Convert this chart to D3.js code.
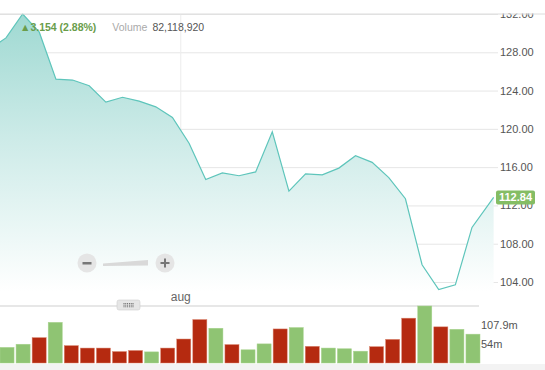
<!DOCTYPE html>
<html>
<head>
    <title>Price chart</title>
    <script src="https://cdnjs.cloudflare.com/ajax/libs/d3/7.8.5/d3.min.js" type="text/JavaScript"></script>
    <style>
        body{
            margin: 0;
            background: #fff;
        }
        svg{
            display: block;
            font-family: "Liberation Sans", Arial, sans-serif;
        }
    </style>
</head>
<body>
    <div id="viz">
        <svg style="height:370px; width:545px"></svg>
    </div>

    <script>
        // trading day index of each close (first one is off-screen, last one is the live price)
        var dayIndex = [-1, 0, 1, 2, 3, 4, 5, 6, 7, 8, 9, 10, 11, 12, 13, 14, 15, 16, 17, 18, 19, 20, 21, 22, 23, 24, 25, 26, 27, 28, 29.3];
        var closes = [128.3, 129.5, 132.0, 130.1, 125.2, 125.1, 124.5, 122.8, 123.3, 122.9, 122.3, 121.2, 118.5, 114.7, 115.4, 115.1, 115.5, 119.7, 113.5, 115.3, 115.2, 115.9, 117.2, 116.5, 114.9, 112.7, 105.8, 103.2, 103.7, 109.7, 112.84];

        // volume in millions, one bar per day
        var volumes = [45, 54, 73, 117, 50, 43, 43, 33, 36, 32, 43, 69, 125, 100, 53, 38, 55, 98, 102, 48, 43, 41, 34, 47, 68, 129, 164, 104, 97, 83];
        var volumeUp = [1, 1, 0, 1, 0, 0, 0, 0, 0, 1, 0, 0, 0, 1, 0, 1, 1, 0, 1, 0, 1, 1, 1, 0, 0, 0, 1, 0, 1, 1];

        var priceTicks = [104, 108, 112, 116, 120, 124, 128, 132];
        var volumeTicks = [54, 107.9];
        var monthTicks = [{day: 10.5, label: "aug"}];

        var lastPrice = 112.84;
        var changeText = "\u25B23.154 (2.88%)";
        var volumeText = "82,118,920";

        var svg = d3.select("svg");

        var xScale = d3.scaleLinear().domain([0, 28]).range([6, 472]);
        var yScale = d3.scaleLinear().domain([104, 132]).range([282, 14]);

        var barScale = d3.scaleBand().domain(d3.range(volumes.length)).range([0, 480]).paddingInner(0.125).paddingOuter(0);
        var volScale = d3.scaleLinear().domain([0, 164]).range([363, 306]);

        var defs = svg.append("defs");
        var grad = defs.append("linearGradient")
                        .attr("id", "areaFill")
                        .attr("gradientUnits", "userSpaceOnUse")
                        .attr("x1", 0).attr("y1", 14)
                        .attr("x2", 0).attr("y2", 292);
        grad.append("stop").attr("offset", "0%").attr("stop-color", "#9fd9d2");
        grad.append("stop").attr("offset", "45%").attr("stop-color", "#cdebe8");
        grad.append("stop").attr("offset", "100%").attr("stop-color", "#ffffff");

        // price gridlines + labels on the right
        var yAxis = d3.axisRight()
                        .scale(yScale)
                        .tickValues(priceTicks)
                        .tickSize(498)
                        .tickFormat(d3.format(".2f"));

        svg.append("g")
            .attr("id", "yAxisG")
            .call(yAxis)
            .call(g => g.select(".domain").remove())
            .call(g => g.selectAll("line").attr("stroke", "#e6e6e6"))
            .call(g => g.selectAll("text")
                        .attr("x", 500)
                        .attr("fill", "#555")
                        .attr("font-size", 11));

        // month gridline
        svg.append("g").selectAll("line")
            .data(monthTicks)
            .enter()
            .append("line")
            .attr("x1", d => xScale(d.day)).attr("x2", d => xScale(d.day))
            .attr("y1", 14).attr("y2", 290)
            .attr("stroke", "#ececec");

        var points = dayIndex.map((d, i) => ({day: d, price: closes[i]}));

        var area = d3.area()
                    .x(d => xScale(d.day))
                    .y0(292)
                    .y1(d => yScale(d.price));

        var line = d3.line()
                    .x(d => xScale(d.day))
                    .y(d => yScale(d.price));

        svg.append("path")
            .attr("d", area(points))
            .attr("fill", "url(#areaFill)");

        svg.append("path")
            .attr("d", line(points))
            .attr("fill", "none")
            .attr("stroke", "#5ec5bb")
            .attr("stroke-width", 1.2);

        // cover above the plot top so the 132 label is cut
        svg.append("rect")
            .attr("x", 0).attr("y", 0)
            .attr("width", 545).attr("height", 13.5)
            .attr("fill", "#fff");
        svg.append("line")
            .attr("x1", 0).attr("x2", 545)
            .attr("y1", 14).attr("y2", 14)
            .attr("stroke", "#dcdcdc");

        // header text
        var header = svg.append("text")
                        .attr("x", 20)
                        .attr("y", 31)
                        .attr("font-size", 10.5);
        header.append("tspan")
            .attr("fill", "#6a9d4b")
            .attr("font-weight", "bold")
            .text(changeText);
        header.append("tspan")
            .attr("dx", 16)
            .attr("fill", "#aaa")
            .text("Volume");
        header.append("tspan")
            .attr("dx", 5)
            .attr("fill", "#555")
            .text(volumeText);

        // last price badge
        var badge = svg.append("g")
                        .attr("transform", `translate(496,${yScale(lastPrice)})`);
        badge.append("rect")
            .attr("x", 0).attr("y", -7)
            .attr("width", 39).attr("height", 14)
            .attr("rx", 2)
            .attr("fill", "#84bd64");
        badge.append("text")
            .attr("x", 19.5).attr("y", 4)
            .attr("text-anchor", "middle")
            .attr("fill", "#fff")
            .attr("font-size", 11)
            .attr("font-weight", "bold")
            .text(d3.format(".2f")(lastPrice));

        // zoom control
        var zoomG = svg.append("g").attr("transform", "translate(87,263)");
        zoomG.append("circle").attr("cx", 0).attr("cy", 0).attr("r", 9.5).attr("fill", "#e5e5e5");
        zoomG.append("circle").attr("cx", 78).attr("cy", 0).attr("r", 9.5).attr("fill", "#e5e5e5");
        zoomG.append("rect").attr("x", -4.5).attr("y", -1).attr("width", 9).attr("height", 2.5).attr("fill", "#777");
        zoomG.append("rect").attr("x", 73.5).attr("y", -1).attr("width", 9).attr("height", 2).attr("fill", "#777");
        zoomG.append("rect").attr("x", 77).attr("y", -4.5).attr("width", 2).attr("height", 9).attr("fill", "#777");
        zoomG.append("path")
            .attr("d", "M16,0.5 L16,3 L61,2.5 L61,-3 Z")
            .attr("fill", "#d9d9d9");

        // month label
        svg.append("g").selectAll("text")
            .data(monthTicks)
            .enter()
            .append("text")
            .attr("x", d => xScale(d.day))
            .attr("y", 301)
            .attr("text-anchor", "middle")
            .attr("fill", "#666")
            .attr("font-size", 12)
            .text(d => d.label);

        // volume panel
        svg.append("line")
            .attr("x1", 0).attr("x2", 479)
            .attr("y1", 306).attr("y2", 306)
            .attr("stroke", "#cfcfcf");

        svg.append("g").selectAll("rect")
            .data(volumes)
            .enter()
            .append("rect")
            .attr("x", (d, i) => barScale(i))
            .attr("y", d => volScale(d))
            .attr("width", barScale.bandwidth())
            .attr("height", d => volScale(0) - volScale(d))
            .attr("fill", (d, i) => volumeUp[i] ? "#8fc473" : "#b52a10")
            .attr("stroke", (d, i) => volumeUp[i] ? "#a9d48f" : "#d9866f")
            .attr("stroke-width", 0.5);

        svg.append("g").selectAll("text")
            .data(volumeTicks)
            .enter()
            .append("text")
            .attr("x", 481)
            .attr("y", d => volScale(d) + 4)
            .attr("fill", "#555")
            .attr("font-size", 11)
            .text(d => d === 54 ? "54m" : d + "m");

        // scroll handle
        var handle = svg.append("g").attr("transform", "translate(117,300)");
        handle.append("rect")
            .attr("width", 23).attr("height", 10)
            .attr("rx", 2)
            .attr("fill", "#e6e6e6")
            .attr("stroke", "#cfcfcf")
            .attr("stroke-width", 0.6);
        handle.selectAll("circle")
            .data(d3.range(18))
            .enter()
            .append("circle")
            .attr("cx", d => 7 + (d % 6) * 1.8)
            .attr("cy", d => 3.5 + Math.floor(d / 6) * 1.6)
            .attr("r", 0.55)
            .attr("fill", "#555");

        // footer strip
        svg.append("rect")
            .attr("x", 0).attr("y", 364)
            .attr("width", 545).attr("height", 6)
            .attr("fill", "#f3f3f3");
    </script>
</body>
</html>
